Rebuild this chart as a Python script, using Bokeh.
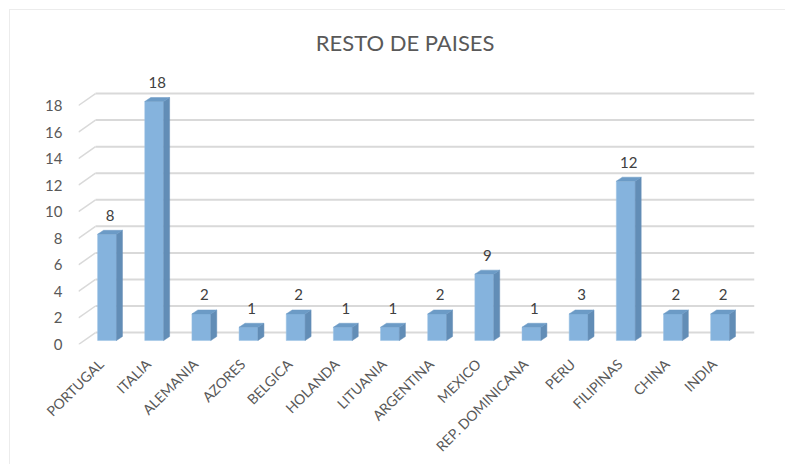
from bokeh.plotting import figure
from bokeh.models import Range1d, LinearAxis, FixedTicker, ColumnDataSource
from bokeh.core.properties import value
from bokeh.embed import file_html
from bokeh.resources import INLINE

# ---- data ----
paises = ["PORTUGAL", "ITALIA", "ALEMANIA", "AZORES", "BELGICA", "HOLANDA", "LITUANIA",
          "ARGENTINA", "MEXICO", "REP. DOMINICANA", "PERU", "FILIPINAS", "CHINA", "INDIA"]
alturas = [8, 18, 2, 1, 2, 1, 1, 2, 5, 1, 2, 12, 2, 2]          # bar heights as drawn
etiquetas = ["8", "18", "2", "1", "2", "1", "1", "2", "9", "1", "3", "12", "2", "2"]  # data labels as printed
y_ticks = [0, 2, 4, 6, 8, 10, 12, 14, 16, 18]
titulo = "RESTO DE PAISES"

# ---- style / geometry (in data units) ----
FONT = "Lato"
HALF = 0.2      # half width of bar front face
DX = 0.127      # 3D depth offset in x
DY = 0.3        # 3D depth offset in y
WALL_DY = 0.6   # back wall offset in y
WALL_X0 = -0.244
X0, X1 = -0.605, 13.73
Y0, Y1 = -0.3, 20.26
LAB_SHIFT = 0.13

p = figure(width=776, height=455, output_backend="svg", toolbar_location=None,
           x_range=Range1d(X0, X1), y_range=Range1d(Y0, Y1),
           x_axis_location=None, y_axis_location=None,
           min_border_left=68, min_border_right=32,
           min_border_top=61, min_border_bottom=121,
           background_fill_color="white", border_fill_color="white",
           outline_line_color=None,
           styles={"margin-left": "9px", "margin-top": "9px",
                   "border-left": "1px solid #ececec", "border-top": "1px solid #ececec"})

p.title.text = titulo
p.title.align = "right"
p.title.offset = 260
p.title.text_font = FONT
p.title.text_font_size = "22px"
p.title.text_font_style = "normal"
p.title.text_color = "#595959"
p.title.standoff = 31

p.xgrid.visible = False
p.ygrid.visible = False

# back wall gridlines and slanted floor/side ticks
gy = [k + WALL_DY for k in y_ticks]
p.segment(x0=[WALL_X0] * len(y_ticks), x1=[X1] * len(y_ticks), y0=gy, y1=gy,
          line_color="#d9d9d9", line_width=2)
p.segment(x0=[X0] * len(y_ticks), x1=[WALL_X0] * len(y_ticks),
          y0=[k - 0.3 for k in y_ticks], y1=gy, line_color="#d9d9d9", line_width=1.5)

# bars (front, side, top)
idx = list(range(len(paises)))
src = ColumnDataSource(dict(
    left=[i - HALF for i in idx], right=[i + HALF for i in idx],
    top=alturas, bottom=[0] * len(idx)))
p.quad(left="left", right="right", top="top", bottom="bottom", source=src,
       fill_color="#85b3dd", line_color="#9cc2e5", line_width=0.5)

side_xs = [[i + HALF, i + HALF + DX, i + HALF + DX, i + HALF] for i in idx]
side_ys = [[0, DY, v + DY, v] for v in alturas]
p.patches(side_xs, side_ys, fill_color="#628db6", line_color="#628db6", line_width=0.5)

top_xs = [[i - HALF, i + HALF, i + HALF + DX, i - HALF + DX] for i in idx]
top_ys = [[v, v, v + DY, v + DY] for v in alturas]
p.patches(top_xs, top_ys, fill_color="#6c9bc6", line_color="#6c9bc6", line_width=0.5)

# data labels
p.text(x=[i + DX / 2 for i in idx], y=[v + DY for v in alturas], text=etiquetas,
       text_align="center", text_baseline="alphabetic", y_offset=-15,
       text_font=value(FONT), text_font_size="15px", text_color="#404040")

# x axis with category names (on a slightly shifted range so labels end left of bar centre)
p.extra_x_ranges = {"lab": Range1d(X0 + LAB_SHIFT, X1 + LAB_SHIFT)}
xa = LinearAxis(x_range_name="lab", ticker=FixedTicker(ticks=idx))
xa.major_label_overrides = {i: n for i, n in enumerate(paises)}
xa.major_label_orientation = 0.785398
xa.axis_line_color = None
xa.major_tick_line_color = None
xa.minor_tick_line_color = None
xa.major_tick_out = 0
xa.major_label_standoff = 17
xa.major_label_text_font = FONT
xa.major_label_text_font_size = "14px"
xa.major_label_text_color = "#595959"
p.add_layout(xa, "below")

# y axis (labels aligned with the front edge of the slanted ticks)
p.extra_y_ranges = {"ylab": Range1d(Y0 + 0.3, Y1 + 0.3)}
ya = LinearAxis(y_range_name="ylab", ticker=FixedTicker(ticks=y_ticks))
ya.axis_line_color = None
ya.major_tick_line_color = None
ya.minor_tick_line_color = None
ya.major_tick_out = 0
ya.major_label_standoff = 16
ya.major_label_text_font = FONT
ya.major_label_text_font_size = "15px"
ya.major_label_text_color = "#595959"
p.add_layout(ya, "left")

open("out.html", "w").write(file_html(p, INLINE))
